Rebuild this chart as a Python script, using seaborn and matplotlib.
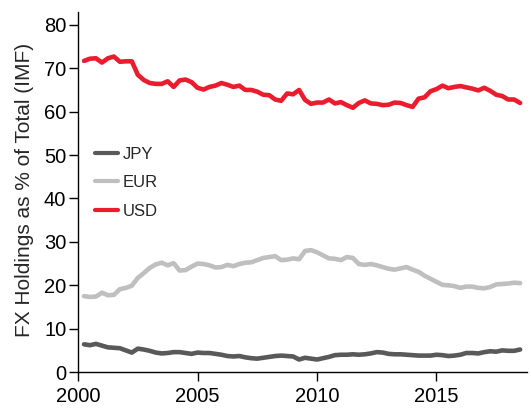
# FX holdings share (IMF COFER) - JPY / EUR / USD, quarterly 2000-2018
import numpy as np
import pandas as pd
import matplotlib
matplotlib.use("Agg")
import matplotlib.pyplot as plt
import seaborn as sns

# 1) Dados (trimestral, fim de trimestre)
anos = np.arange(2000.25, 2018.51, 0.25)

jpy = [6.4, 6.2, 6.5,
       6.1, 5.7, 5.6, 5.5,
       5.0, 4.5, 5.4, 5.2,
       4.9, 4.5, 4.3, 4.4,
       4.6, 4.6, 4.4, 4.2,
       4.5, 4.4, 4.4, 4.2,
       4.0, 3.7, 3.6, 3.7,
       3.4, 3.2, 3.1, 3.3,
       3.5, 3.7, 3.8, 3.7,
       3.6, 2.9, 3.3, 3.1,
       2.9, 3.2, 3.5, 3.9,
       4.0, 4.0, 4.1, 4.0,
       4.1, 4.3, 4.6, 4.5,
       4.2, 4.1, 4.1, 4.0,
       3.9, 3.8, 3.8, 3.8,
       4.0, 3.9, 3.7, 3.8,
       4.0, 4.4, 4.4, 4.3,
       4.6, 4.8, 4.7, 5.0,
       4.9, 4.9, 5.2]

eur = [17.5, 17.3, 17.4,
       18.3, 17.7, 17.8, 19.1,
       19.4, 19.9, 21.7, 22.8,
       24.0, 24.8, 25.2, 24.6,
       25.1, 23.4, 23.5, 24.3,
       25.0, 24.9, 24.6, 24.1,
       24.2, 24.7, 24.4, 24.9,
       25.2, 25.3, 25.8, 26.3,
       26.5, 26.7, 25.8, 25.9,
       26.2, 26.0, 27.9, 28.1,
       27.6, 26.9, 26.2, 26.1,
       25.8, 26.5, 26.3, 24.9,
       24.7, 24.9, 24.6, 24.2,
       23.8, 23.6, 23.9, 24.2,
       23.6, 23.1, 22.2, 21.5,
       20.8, 20.1, 20.0, 19.8,
       19.4, 19.7, 19.7, 19.4,
       19.3, 19.6, 20.2, 20.3,
       20.4, 20.6, 20.5]

usd = [71.7, 72.2, 72.3,
       71.3, 72.3, 72.7, 71.5,
       71.6, 71.6, 68.5, 67.3,
       66.6, 66.4, 66.4, 67.0,
       65.7, 67.2, 67.4, 66.8,
       65.5, 65.1, 65.7, 66.0,
       66.6, 66.2, 65.7, 66.0,
       65.0, 65.0, 64.6, 63.9,
       63.8, 62.8, 62.5, 64.2,
       64.0, 65.0, 62.7, 61.8,
       62.1, 62.1, 62.8, 61.9,
       62.2, 61.5, 60.9, 62.0,
       62.6, 61.9, 61.8, 61.5,
       61.6, 62.1, 62.0, 61.5,
       61.1, 63.0, 63.3, 64.7,
       65.2, 66.0, 65.4, 65.7,
       65.9, 65.6, 65.3, 64.9,
       65.5, 64.8, 63.9, 63.6,
       62.8, 62.8, 62.0]

moedas = ["JPY", "EUR", "USD"]
cores = {"JPY": "#595959", "EUR": "#bfbfbf", "USD": "#ea1c2d"}

df = pd.concat([
    pd.DataFrame({"ano": anos, "share": vals, "moeda": m})
    for m, vals in zip(moedas, [jpy, eur, usd])
], ignore_index=True)

# 2) Estilo
sns.set_style("ticks")
plt.rcParams["font.family"] = ["Liberation Sans", "DejaVu Sans"]

fig = plt.figure(figsize=(5.31, 4.08), dpi=100)
ax = fig.add_axes([0.147, 0.088, 0.846, 0.883])

sns.lineplot(data=df, x="ano", y="share", hue="moeda", hue_order=moedas,
             palette=cores, linewidth=3.3, ax=ax)

ax.set_xlim(2000, 2018.8)
ax.set_ylim(0, 83)
ax.set_xticks([2000, 2005, 2010, 2015])
ax.set_yticks(range(0, 81, 10))
ax.set_xlabel("")
ax.set_ylabel("FX Holdings as % of Total (IMF)", fontsize=15)
ax.yaxis.set_label_coords(-0.097, 0.505)
ax.tick_params(axis="both", labelsize=14.5, length=6.5, width=1,
               color="black", labelcolor="black")
ax.tick_params(axis="y", pad=2)
ax.tick_params(axis="x", pad=4.5)
for s in ["left", "bottom"]:
    ax.spines[s].set_color("black")
    ax.spines[s].set_linewidth(1)
sns.despine(ax=ax)

leg = ax.legend(loc="upper left", bbox_to_anchor=(0.038, 0.625), frameon=False,
                fontsize=12, handlelength=1.35, handletextpad=0.3,
                labelspacing=0.8, borderpad=0, borderaxespad=0)
for h in leg.get_lines():
    h.set_linewidth(3.0)

fig.savefig("out.png", dpi=100)
plt.close(fig)
